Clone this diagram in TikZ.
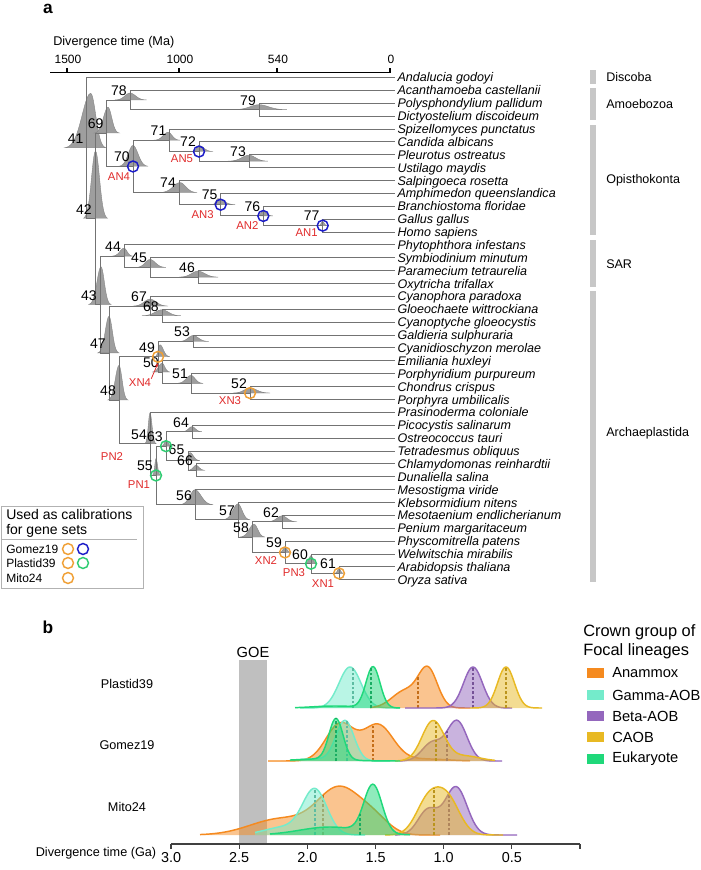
\documentclass[tikz,border=0pt]{standalone}
\usepackage{fontspec}
\setmainfont{Liberation Sans}
\usetikzlibrary{calc,arrows.meta}
\definecolor{anam}{HTML}{F58A1F}
\definecolor{gaob}{HTML}{74EBCB}
\definecolor{baob}{HTML}{9467BD}
\definecolor{caob}{HTML}{E8B923}
\definecolor{euk}{HTML}{1FD87A}
\definecolor{calorange}{HTML}{F0A035}
\definecolor{calblue}{HTML}{1C1CC8}
\definecolor{calgreen}{HTML}{2ECC71}
\definecolor{calred}{HTML}{E02B2B}
\def\ry#1{77.5+12.88*#1}
\newcommand\tdens[5]{%
  \pgfmathsetmacro\tdy{77.5+12.88*#2}%
  \pgfmathsetmacro\tda{#1-3*#3}%
  \pgfmathsetmacro\tdb{#1+3*#4}%
  \fill[dens] plot[domain=\tda:#1,samples=14,smooth] (\x,{\tdy-#5*exp(-0.5*((\x-#1)/#3)^2)})
    -- plot[domain=#1:\tdb,samples=14,smooth] (\x,{\tdy-#5*exp(-0.5*((\x-#1)/#4)^2)}) -- cycle;}
\newcommand\dens[6]{%
  \fill[#1,fill opacity=.5] (#3,#2) -- plot[domain=#3:#4,samples=80,smooth] (\x,{#2-#6(\x)}) -- (#4,#2) -- cycle;
  \draw[#1,line width=1.1pt,line join=round] plot[domain=#3:#4,samples=80,smooth] (\x,{#2-#6(\x)});
  \draw[#1!80!black,line width=.9pt,dash pattern=on 2pt off 1.5pt] (#5,#2) -- (#5,{#2-#6(#5)});}

\begin{document}
\begin{tikzpicture}[x=0.75pt,y=-0.75pt,
    branch/.style={draw=black!55,line width=0.75pt},
    dens/.style={fill=black!38,draw=black!48,line width=0.3pt},
    taxon/.style={anchor=base west,inner sep=1pt,font=\fontsize{9.4}{11}\selectfont\itshape},
    nlab/.style={inner sep=0pt,font=\fontsize{10.5}{12}\selectfont},
    cal/.style={circle,draw=#1,line width=1.1pt,minimum size=8.2pt,inner sep=0pt},
    redlab/.style={inner sep=0pt,text=calred,font=\fontsize{8.5}{10}\selectfont},
    clade/.style={anchor=west,inner sep=0pt,font=\fontsize{9.4}{11}\selectfont},
    small/.style={inner sep=0pt,font=\fontsize{9}{11}\selectfont},
    panel/.style={inner sep=0pt,font=\fontsize{13}{15}\selectfont\bfseries},
    declare function={
      gs(\va,\vm,\vs)=exp(max(-9,-0.5*((\va-\vm)/\vs)^2));
      pla(\va)=38*gs(\va,428,9.5)+17*gs(\va,405,13);
      plg(\va)=41*gs(\va,350,11);
      plb(\va)=41*gs(\va,473,9.5);
      plc(\va)=41*gs(\va,506,8.5);
      ple(\va)=41*gs(\va,373,7)+2*gs(\va,335,22);
      goa(\va)=37*gs(\va,340,14)+36*gs(\va,378,15)+2*gs(\va,425,22);
      gog(\va)=40*gs(\va,345,9)+2*gs(\va,315,20);
      gob(\va)=40*gs(\va,457,10)+18*gs(\va,432,10);
      goc(\va)=40*gs(\va,433,11)+5*gs(\va,465,15);
      goe(\va)=41*gs(\va,336,7)+2*gs(\va,320,25);
      mia(\va)=46*gs(\va,340,22)+16*gs(\va,280,30)+12*gs(\va,375,15);
      mig(\va)=44*gs(\va,315,12)+8*gs(\va,285,20);
      mib(\va)=48*gs(\va,456,11)+25*gs(\va,428,10);
      mic(\va)=34*gs(\va,428,12)+34*gs(\va,448,12);
      mie(\va)=48*gs(\va,373,9)+8*gs(\va,330,30);
    }]
  \useasboundingbox (0,0) rectangle (700,870);

  \node[panel] (pa) at (48,9) {a};
  \node[panel] (pb) at (48,627) {b};

  \node[anchor=west,inner sep=0pt,font=\fontsize{9.5}{11}\selectfont] (axa) at (53,42) {Divergence time (Ma)};
  \draw[line width=0.8pt] (50,72.7) -- (390,72.7);
  \foreach \xx/\lb in {67/1500,179/1000,277/540,390/0} {
    \draw[line width=0.8pt] (\xx,72.7) -- (\xx,68.5);
    \node[small] (ta\lb) at (\xx+1,59) {\lb};
  }

  \foreach \nn/\px/\r in {41/86.7/5.4926, 42/95/10.985, 43/100/17.6421, 44/124/13.875,
      45/150/14.75, 46/198/15.5, 47/109/21.4092, 48/119/25.0684, 49/158/21.6875,
      50/162/22.875, 51/191/23.75, 52/250/24.5, 53/193/20.5, 54/150/28.4492,
      55/156/30.8984, 56/195/33.1719, 57/238/34.3438, 58/252/35.6875, 59/285/36.875,
      60/311/37.75, 61/339/38.5, 62/282/34.5, 63/166/28.625, 64/192/27.5,
      65/188/29.75, 66/196/30.5, 67/150/17.75, 68/162/18.5, 69/106.7/4.3281,
      70/133/6.9063, 71/169.5/4.875, 72/199/5.75, 73/249/6.5, 74/179/8.9375,
      75/220.7/9.875, 76/263.3/10.75, 77/322.7/11.5, 78/130/1.75, 79/259/2.5}
    \coordinate (n\nn) at (\px,{\ry{\r}});

  \foreach \px/\pr/\psl/\psr/\ph in {90.7/5.4926/8.5/5/55, 95.5/10.985/4/4/68,
      108/4.3281/4.5/3.7/26, 130/1.75/5/5.5/7, 259/2.5/8.7/9.3/5, 133/6.9063/4.7/5/21,
      168/4.875/4.7/4/8, 199/5.75/2.2/4.7/6, 249/6.5/7/6.3/6, 180/8.9375/6.7/5.7/10,
      218/9.875/2/5.7/6, 263/10.75/2/3.3/5, 322.7/11.5/1.5/1.5/4, 101/17.6421/4/3.3/38,
      124/13.875/4/3/8, 150/14.75/4.7/5.3/8, 198/15.5/6.3/6.7/6, 109/21.4092/3.7/3.3/37,
      150/17.75/5.7/6/7, 162/18.5/6.7/6.3/6, 119/25.0684/3.7/3/35, 160/21.6875/1.7/3.3/12,
      162/22.875/3.3/2.7/9, 191/23.75/4.7/4/8, 250/24.5/5.7/6.7/5, 193/20.5/4.7/5.3/6,
      150/28.4492/1.7/2/31, 166/28.625/1.5/2/6, 156/30.8984/1.2/1.5/17, 192/27.5/3.3/3.3/5,
      190/29.75/1.7/3.3/8, 196/30.5/2.7/3/5, 195/33.1719/5/6/15, 238/34.3438/5/4/16,
      254/35.6875/4.7/3.7/13, 282/34.5/5/5/6, 285/36.875/2/2/5, 311/37.75/2/2/8,
      339/38.5/1.5/1.5/5}
    \tdens{\px}{\pr}{\psl}{\psr}{\ph};

  \foreach \nm [count=\i from 0] in {Andalucia godoyi, Acanthamoeba castellanii,
      Polysphondylium pallidum, Dictyostelium discoideum, Spizellomyces punctatus,
      Candida albicans, Pleurotus ostreatus, Ustilago maydis, Salpingoeca rosetta,
      Amphimedon queenslandica, Branchiostoma floridae, Gallus gallus, Homo sapiens,
      Phytophthora infestans, Symbiodinium minutum, Paramecium tetraurelia,
      Oxytricha trifallax, Cyanophora paradoxa, Gloeochaete wittrockiana,
      Cyanoptyche gloeocystis, Galdieria sulphuraria, Cyanidioschyzon merolae,
      Emiliania huxleyi, Porphyridium purpureum, Chondrus crispus, Porphyra umbilicalis,
      Prasinoderma coloniale, Picocystis salinarum, Ostreococcus tauri,
      Tetradesmus obliquus, Chlamydomonas reinhardtii, Dunaliella salina,
      Mesostigma viride, Klebsormidium nitens, Mesotaenium endlicherianum,
      Penium margaritaceum, Physcomitrella patens, Welwitschia mirabilis,
      Arabidopsis thaliana, Oryza sativa} {
    \coordinate (l\i) at (395,{\ry{\i}});
    \node[taxon] (t\i) at ($(l\i)+(1,4.5)$) {\nm};
  }

  \foreach \a/\b in {n41/l0, n41/n42, n42/n69, n42/n43, n69/n78, n69/n70, n78/l1, n78/n79,
      n79/l2, n79/l3, n70/n71, n70/n74, n71/l4, n71/n72, n72/l5, n72/n73, n73/l6, n73/l7,
      n74/l8, n74/n75, n75/l9, n75/n76, n76/l10, n76/n77, n77/l11, n77/l12,
      n43/n44, n43/n47, n44/l13, n44/n45, n45/l14, n45/n46, n46/l15, n46/l16,
      n47/n67, n47/n48, n67/l17, n67/n68, n68/l18, n68/l19, n48/n49, n48/n54,
      n49/n53, n49/n50, n53/l20, n53/l21, n50/l22, n50/n51, n51/l23, n51/n52,
      n52/l24, n52/l25, n54/l26, n54/n55, n55/n63, n55/n56, n63/n64, n63/n65,
      n64/l27, n64/l28, n65/l29, n65/n66, n66/l30, n66/l31, n56/l32, n56/n57,
      n57/l33, n57/n58, n58/n62, n58/n59, n62/l34, n62/l35, n59/l36, n59/n60,
      n60/l37, n60/n61, n61/l38, n61/l39}
    \draw[branch] (\a) |- (\b);

  \foreach \nn in {41,...,64,66,67,...,79}
    \node[nlab] (k\nn) at ($(n\nn)+(-11,-9.5)$) {\nn};
  \node[nlab] (k65) at ($(n65)+(-11.5,-11)$) {65};

  \foreach \nn/\c/\t/\dx/\dy in {70/calblue/AN4/-14/10.5, 72/calblue/AN5/-17/7.5,
      75/calblue/AN3/-18/10, 76/calblue/AN2/-16/10, 77/calblue/AN1/-16/7,
      49/calorange/XN4/-18/26, 52/calorange/XN3/-20/8, 59/calorange/XN2/-19/7.6,
      61/calorange/XN1/-16/10.7, 55/calgreen/PN1/-17/9.5, 60/calgreen/PN3/-17/9.3,
      63/calgreen/PN2/-54/10} {
    \node[cal=\c] (c\nn) at (n\nn) {};
    \node[redlab] (r\t) at ($(n\nn)+(\dx,\dy)$) {\t};
  }
  \draw[calred,line width=0.6pt,-{Stealth[length=3pt,width=2.5pt]}] (rXN4.north east) -- (c49.south);

  \foreach \nm/\ya/\yb/\yl in {Discoba/70/84/77, Amoebozoa/88/120/104, Opisthokonta/125/235/180,
      SAR/240/287/264, Archaeplastida/291/582/433} {
    \fill[black!22] (590,\ya) rectangle (596,\yb);
    \node[clade] (g\nm) at (606,\yl) {\nm};
  }

  \draw[draw=black!30,fill=white,line width=0.6pt] (1,506) rectangle (143,588);
  \node[anchor=west,inner sep=0pt,font=\fontsize{10.5}{12}\selectfont] (leg1) at (6,514) {Used as calibrations};
  \node[anchor=west,inner sep=0pt,font=\fontsize{10.5}{12}\selectfont] (leg2) at (6,531) {for gene sets};
  \draw[black!30,line width=0.6pt] (1,539) -- (137,539);
  \foreach \nm/\yy in {Gomez19/549, Plastid39/563, Mito24/578}
    \node[anchor=west,small] (s\nm) at (6,\yy) {\nm};
  \node[cal=calorange] (o1) at (68,549) {};
  \node[cal=calblue] (o2) at (83,549) {};
  \node[cal=calorange] (o3) at (68,563) {};
  \node[cal=calgreen] (o4) at (83,563) {};
  \node[cal=calorange] (o5) at (68,578) {};

  \fill[black!25] (239,660) rectangle (267,844);
  \node[inner sep=0pt,font=\fontsize{11}{13}\selectfont] (goe) at (253,652) {GOE};

  \foreach \nm/\yy in {Plastid39/684, Gomez19/745, Mito24/807}
    \node[inner sep=0pt,font=\fontsize{9.5}{11}\selectfont] (b\nm) at (127,\yy) {\nm};

  \dens{gaob}{708}{300}{400}{353}{plg}
  \dens{anam}{708}{370}{470}{418}{pla}
  \dens{baob}{708}{405}{512}{473}{plb}
  \dens{caob}{708}{470}{542}{506}{plc}
  \dens{euk}{708}{295}{400}{371}{ple}

  \dens{anam}{761}{268}{470}{373}{goa}
  \dens{gaob}{761}{300}{390}{347}{gog}
  \dens{baob}{761}{400}{502}{447}{gob}
  \dens{caob}{761}{395}{495}{436}{goc}
  \dens{euk}{761}{290}{400}{336}{goe}

  \dens{anam}{835}{200}{440}{323}{mia}
  \dens{gaob}{835}{255}{365}{315}{mig}
  \dens{baob}{835}{395}{517}{449}{mib}
  \dens{caob}{835}{385}{503}{434}{mic}
  \dens{euk}{835}{270}{410}{360}{mie}

  \draw[black!75,line width=0.8pt] (171,844) -- (580,844);
  \foreach \v in {3.0,2.5,2.0,1.5,1.0,0.5,0.0}
    \draw[black!75,line width=0.8pt] (580-136.33*\v,844) -- (580-136.33*\v,849);
  \foreach \v in {3.0,2.5,2.0,1.5,1.0,0.5}
    \node[inner sep=0pt,font=\fontsize{10.8}{12}\selectfont] (tb\v) at (580-136.33*\v,858) {\v};
  \node[inner sep=0pt,font=\fontsize{9.5}{11}\selectfont] (axb) at (96,853) {Divergence time (Ga)};

  \node[anchor=west,inner sep=0pt,font=\fontsize{12.3}{14}\selectfont] (cg1) at (583,632) {Crown group of};
  \node[anchor=west,inner sep=0pt,font=\fontsize{12.3}{14}\selectfont] (cg2) at (583,651) {Focal lineages};
  \foreach \nm/\c/\yy in {Anammox/anam/673, Gamma-AOB/gaob/695, Beta-AOB/baob/716,
      CAOB/caob/737, Eukaryote/euk/759} {
    \fill[\c] (587,\yy-5) rectangle (604,\yy+5);
    \node[anchor=west,inner sep=0pt,font=\fontsize{11}{13}\selectfont] (e\nm) at (612,\yy) {\nm};
  }
\end{tikzpicture}
\end{document}
